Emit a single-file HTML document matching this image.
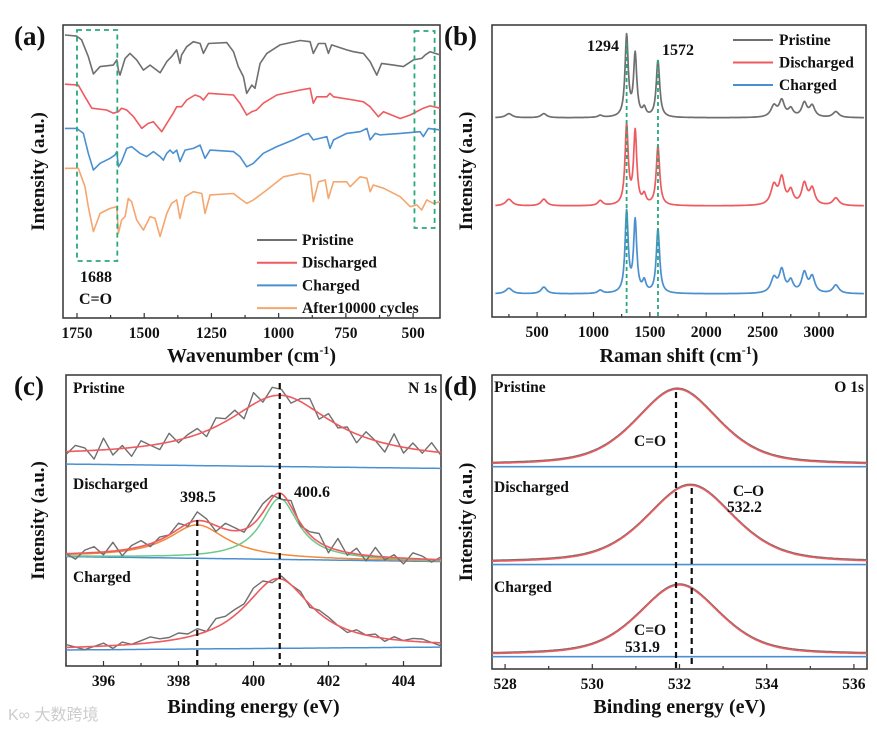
<!DOCTYPE html>
<html><head><meta charset="utf-8"><style>
html,body{margin:0;padding:0;background:#fff}
svg{display:block;font-family:"Liberation Serif",serif;font-weight:bold}
</style></head><body>
<svg id="fig" width="877" height="729" viewBox="0 0 877 729"></svg>
<script>
// ---------- Panel (a) FTIR data ----------
const ftirPristineWn=[1795,1751,1733,1708,1689,1664,1615,1602,1596,1590,1571,1553,1528,1503,1478,1441,1416,1398,1379,1367,1361,1342,1317,1292,1280,1261,1193,1168,1150,1131,1119,1100,1088,1069,1044,995,920,883,871,852,827,815,803,747,722,685,660,635,617,573,536,499,468,455,437,400];
const ftirPristineI=[96.6,96.2,94.9,89.2,83.3,85.8,86.3,88.1,84.6,82.9,88.6,90.3,88.1,84.6,86.3,83.7,87.5,89.2,91.5,86.9,89.8,92.6,94.3,93.7,90.3,93.7,94.0,90.9,85.8,82.4,76.7,79.5,78.4,86.9,90.3,93.2,94.7,94.3,90.3,93.7,93.7,90.3,93.2,91.5,90.9,90.3,87.5,82.9,86.9,86.3,85.8,88.1,88.6,89.8,90.9,89.8];
const ftirDischargedWn=[1795,1745,1720,1695,1640,1615,1596,1584,1565,1540,1509,1485,1466,1435,1416,1392,1379,1361,1342,1311,1292,1280,1261,1168,1144,1119,1100,1082,1057,1007,920,883,871,858,821,809,796,722,685,660,629,610,548,511,462,437,400];
const ftirDischargedI=[79.8,79.5,75.5,71.6,71.0,69.9,70.4,71.6,71.0,68.7,64.7,66.4,67.0,63.6,66.4,69.9,72.1,72.1,74.4,76.1,75.5,74.4,76.7,76.1,73.3,69.3,70.4,71.0,73.3,76.1,77.8,78.4,73.3,75.5,75.5,76.7,75.5,74.4,73.8,72.1,68.7,70.4,68.1,69.3,71.6,72.4,71.6];
const ftirChargedWn=[1795,1751,1726,1708,1689,1664,1627,1609,1602,1596,1584,1565,1547,1516,1491,1466,1441,1429,1416,1404,1392,1379,1367,1348,1317,1292,1274,1255,1168,1144,1119,1094,1057,1007,945,908,889,871,821,809,796,747,697,672,660,641,623,548,474,462,443,400];
const ftirChargedI=[64.7,64.7,63.0,56.2,50.5,52.8,54.5,55.6,56.8,51.6,53.4,57.9,58.5,56.2,55.1,56.8,55.1,53.9,56.2,57.3,56.2,57.3,53.4,57.3,57.9,59.0,54.5,57.3,56.8,55.1,51.6,52.8,56.2,58.5,60.8,62.5,63.0,60.8,61.9,57.9,60.8,63.0,63.6,64.7,60.8,63.0,62.5,63.0,63.6,61.9,64.7,64.2];
const ftirCycledWn=[1795,1745,1720,1708,1689,1664,1627,1602,1596,1584,1571,1559,1547,1528,1503,1478,1460,1441,1416,1398,1379,1367,1348,1317,1286,1274,1255,1168,1144,1119,1094,1044,982,920,883,871,852,827,815,796,747,734,697,672,660,648,610,548,511,486,468,449,424,400];
const ftirCycledI=[51.1,51.1,44.8,38.0,29.5,35.7,37.4,38.0,28.9,33.4,34.6,40.8,39.7,33.4,30.0,34.6,34.0,27.8,35.7,39.1,40.3,34.0,41.4,43.1,42.5,35.7,42.0,42.5,40.8,39.1,40.3,43.7,48.2,49.4,48.8,39.7,46.5,47.1,40.8,46.5,46.5,44.8,48.2,47.7,43.1,45.4,44.3,41.4,38.0,38.6,36.9,40.3,39.1,39.7];
const ftirTicks=[1750,1500,1250,1000,750,500];
// ---------- Panel (b) Raman data ----------
const ramanPeaks=[250,560,1060,1294,1370,1450,1572,2600,2670,2750,2870,2940,3150];
const ramanWidths=[35,30,25,17,17,18,18,32,28,26,28,28,32];
const ramanPristine=[1.4,1.4,0.7,27.7,21.2,2.7,19.5,3.8,5.5,2.7,4.8,3.8,2.0];
const ramanDischarged=[2.3,2.3,1.7,27.2,24.9,3.2,20.3,6.6,8.9,4.6,7.2,5.5,2.6];
const ramanCharged=[1.9,2.3,1.1,27.6,24.4,3.7,21.9,5.0,7.6,3.9,6.8,5.4,2.9];
const ramanBaselines=[68.2,38.0,7.9];
const ramanTicks=[500,1000,1500,2000,2500,3000];
// ---------- Panel (c) N 1s ----------
const n1sBaseLeft=[69.4,37.6,5.5];
const n1sBaseRight=[67.9,35.9,6.5];
const n1sCenters=[400.7,398.5,400.7,400.65];
const n1sHeights=[22,11.5,21,24];
const n1sWidths=[1.7,0.95,0.6,1.1];
const n1sNoisePristine=[-1,2,1,-3,4,-2,1,-3,2,0,-2,3,-1,1,2,-2,3,1,2,-3,4,-1,3,2,-2,1,3,-2,2,-1,1,-3,2,0,-3,4,-2,2,-1,3,-1];
const n1sNoiseDischarged=[0,-2,1,2,-1,3,-2,1,2,-1,1,0,2,-1,3,1,-2,2,1,-1,2,3,1,-2,2,-1,1,3,-2,4,-1,2,-2,3,-1,1,-2,2,1,-1,1];
const n1sNoiseCharged=[1,0,-1,0,1,-1,1,0,1,2,1,1,2,1,2,0,3,2,2,1,3,2,-1,1,0,1,-1,1,1,0,-1,1,0,1,-1,1,0,1,1,0,-1];
const n1sTicks=[396,398,400,402,404];
// ---------- Panel (d) O 1s ----------
const o1sBaselines=[68.8,35.5,4.2];
const o1sCenters=[531.95,532.25,532.0];
const o1sHeights=[26,26.6,24];
const o1sWidths=[1.12,1.18,1.1];
const o1sTicks=[528,530,532,534,536];

const NS="http://www.w3.org/2000/svg";
const svg=document.getElementById('fig');
function mk(tag,attrs,parent){const e=document.createElementNS(NS,tag);for(const k in attrs)e.setAttribute(k,attrs[k]);(parent||svg).appendChild(e);return e;}
function txt(s,x,y,size,anchor,parent){const t=mk('text',{x:x,y:y,'font-size':size,'text-anchor':anchor||'start',fill:'#111'},parent);t.textContent=s;return t;}
function lin(x,c,w){return 1/(1+((x-c)/w)**2);}
function voigt(x,c,w){return 0.45*lin(x,c,w)+0.55*Math.exp(-Math.LN2*((x-c)/w)**2);}
function panel(name,x0,x1,y0,y1,xmin,xmax){
  const g=mk('g',{});
  
  
  const sx=v=>x0+(v-xmin)/(xmax-xmin)*(x1-x0);
  const sy=v=>y1-v/100*(y1-y0);
  return {g,sx,sy,x0,x1,y0,y1};
}
function frame(P,ticks,minorStep,xmin,xmax){
  const f=mk('rect',{x:P.x0,y:P.y0,width:P.x1-P.x0,height:P.y1-P.y0,fill:'none',stroke:'#333','stroke-width':1.5},P.g);
  
  
  const lo=Math.min(xmin,xmax),hi=Math.max(xmin,xmax);
  for(let v=Math.ceil(lo/minorStep)*minorStep;v<=hi;v+=minorStep){
    const major=ticks.some(t=>Math.abs(t-v)<1e-6);
    mk('line',{x1:P.sx(v),x2:P.sx(v),y1:P.y1,y2:P.y1-(major?5:3),stroke:'#333','stroke-width':1.2},P.g);
  }
  ticks.forEach(t=>{const l=txt(String(t),P.sx(t),P.y1+20,15.5,'middle',P.g);
    
    });
}
function poly(P,xs,ys,color,w,name){
  const pts=xs.map((x,i)=>P.sx(x).toFixed(1)+','+P.sy(ys[i]).toFixed(1)).join(' ');
  const p=mk('polyline',{points:pts,fill:'none',stroke:color,'stroke-width':w||1.5,'stroke-linejoin':'round'},P.g);
  
  
  return p;
}
function dashV(P,xv,ya,yb,color,w,dash){mk('line',{x1:P.sx(xv),x2:P.sx(xv),y1:ya,y2:yb,stroke:color,'stroke-width':w,'stroke-dasharray':dash},P.g);}
function ylabel(P,x){const yc=(P.y0+P.y1)/2;const t=txt('Intensity (a.u.)',x,yc,19,'middle',P.g);t.setAttribute('transform','rotate(-90 '+x+' '+yc+')');
  
  }
function xtitle(P,parts,y){const t=mk('text',{x:(P.x0+P.x1)/2,y:y,'font-size':20,'text-anchor':'middle',fill:'#111'},P.g);
  
  
  t.innerHTML=parts;}
function letter(s,x,y){const t=txt(s,x,y,27,'start');
  }

const GRAY='#6f6f6f',RED='#ef5a5f',BLUE='#4a90d0',ORANGE='#f5a66e',GREEN='#2aa87a';

// ===== Panel a =====
{
const P=panel('panel-a-ftir',63,440,25,318,1802,400);
frame(P,ftirTicks,125,1802,400);
poly(P,ftirPristineWn,ftirPristineI,GRAY,1.6,'series-pristine');
poly(P,ftirDischargedWn,ftirDischargedI,RED,1.6,'series-discharged');
poly(P,ftirChargedWn,ftirChargedI,BLUE,1.6,'series-charged');
poly(P,ftirCycledWn,ftirCycledI,ORANGE,1.6,'series-after-cycles');
mk('rect',{x:P.sx(1750),y:30,width:P.sx(1600)-P.sx(1750),height:231,fill:'none',stroke:GREEN,'stroke-width':1.8,'stroke-dasharray':'5,4'},P.g);
mk('rect',{x:P.sx(495),y:31,width:P.sx(420)-P.sx(495),height:197,fill:'none',stroke:GREEN,'stroke-width':1.8,'stroke-dasharray':'5,4'},P.g);
txt('1688',80,282,16,'start',P.g);txt('C=O',79,304,16,'start',P.g);
const names=['Pristine','Discharged','Charged','After10000 cycles'],cols=[GRAY,RED,BLUE,ORANGE];
names.forEach((n,i)=>{const y=240+i*22.7;
 const l=mk('line',{x1:257,x2:297,y1:y,y2:y,stroke:cols[i],'stroke-width':2},P.g);
 
 
 const t=txt(n,302,y+5,15.5,'start',P.g);
 
 });
ylabel(P,44);
xtitle(P,'Wavenumber (cm<tspan dy="-8" font-size="12">-1</tspan><tspan dy="8">)</tspan>',362);
letter('(a)',14,45);
}
// ===== Panel b =====
{
const P=panel('panel-b-raman',492,866,25,317,100,3417);
frame(P,ramanTicks,250,100,3417);
const sets=[ramanPristine,ramanDischarged,ramanCharged],cols=[GRAY,RED,BLUE],nm=['series-pristine','series-discharged','series-charged'];
sets.forEach((h,si)=>{const xs=[],ys=[];
 for(let x=130;x<=3400;x+=4){let v=ramanBaselines[si];ramanPeaks.forEach((c,k)=>v+=h[k]*lin(x,c,ramanWidths[k]));xs.push(x);ys.push(v);}
 poly(P,xs,ys,cols[si],1.7,nm[si]);});
dashV(P,1294,43,316,GREEN,1.8,'4,3');dashV(P,1572,60,316,GREEN,1.8,'4,3');
txt('1294',587,51,16,'start',P.g);txt('1572',662,55,16,'start',P.g);
['Pristine','Discharged','Charged'].forEach((n,i)=>{const y=40+i*22.5;
 const l=mk('line',{x1:733,x2:773,y1:y,y2:y,stroke:cols[i],'stroke-width':2},P.g);
 
 
 const t=txt(n,779,y+5,15.5,'start',P.g);
 
 });
ylabel(P,472);
xtitle(P,'Raman shift (cm<tspan dy="-8" font-size="12">-1</tspan><tspan dy="8">)</tspan>',362);
letter('(b)',444,45);
}
// ===== Panel c =====
{
const P=panel('panel-c-n1s',66,441,375,666,395,405);
frame(P,n1sTicks,1,395,405);
const base=(i,x)=>n1sBaseLeft[i]+(n1sBaseRight[i]-n1sBaseLeft[i])*(x-395)/10;
const noises=[n1sNoisePristine,n1sNoiseDischarged,n1sNoiseCharged];
const fit=(i,x)=>{if(i===0)return base(0,x)+2.5+n1sHeights[0]*lin(x,n1sCenters[0],n1sWidths[0]);
 if(i===1)return base(1,x)+n1sHeights[1]*lin(x,n1sCenters[1],n1sWidths[1])+n1sHeights[2]*lin(x,n1sCenters[2],n1sWidths[2]);
 return base(2,x)+n1sHeights[3]*lin(x,n1sCenters[3],n1sWidths[3]);};
for(let i=0;i<3;i++){
 const xs=[],b=[],f=[],d=[];
 for(let x=395;x<=405.001;x+=0.05){xs.push(x);b.push(base(i,x));f.push(fit(i,x));}
 const dx=[];for(let k=0;k<noises[i].length;k++){const x=395+k*0.25;dx.push(x);d.push(fit(i,x)+noises[i][k]);}
 poly(P,xs,b,BLUE,1.5,'background-line');
 if(i===1){
  poly(P,xs,xs.map(x=>base(1,x)+n1sHeights[1]*lin(x,n1sCenters[1],n1sWidths[1])),'#f08a3c',1.5,'component-398');
  poly(P,xs,xs.map(x=>base(1,x)+n1sHeights[2]*lin(x,n1sCenters[2],n1sWidths[2])),'#6cc98a',1.5,'component-400');
 }
 poly(P,dx,d,GRAY,1.4,'raw-data');
 poly(P,xs,f,RED,1.6,'fit-envelope');
}
dashV(P,398.5,520,665,'#111',2.2,'6,4');dashV(P,400.7,383,665,'#111',2.2,'6,4');
txt('Pristine',73,393,15.5,'start',P.g);txt('N 1s',437,393,15.5,'end',P.g);
txt('Discharged',73,489,15.5,'start',P.g);txt('Charged',73,582,15.5,'start',P.g);
txt('398.5',180,502,16,'start',P.g);txt('400.6',294,497,16,'start',P.g);
ylabel(P,44);
xtitle(P,'Binding energy (eV)',713);
letter('(c)',14,395);
}
// ===== Panel d =====
{
const P=panel('panel-d-o1s',492,867,375,669,527.7,536.3);
frame(P,o1sTicks,1,527.7,536.3);
for(let i=0;i<3;i++){
 const xs=[],b=[],f=[];
 for(let x=527.7;x<=536.3;x+=0.04){xs.push(x);b.push(o1sBaselines[i]);f.push(o1sBaselines[i]+0.4+o1sHeights[i]*voigt(x,o1sCenters[i],o1sWidths[i]));}
 poly(P,xs,b,BLUE,1.6,'background-line');
 poly(P,xs,f.map((v,k)=>v+0.3),GRAY,1.6,'raw-data');
 poly(P,xs,f,RED,1.6,'fit-envelope');
}
dashV(P,531.92,392,668,'#111',2.2,'6,4');dashV(P,532.28,488,668,'#111',2.2,'6,4');
txt('Pristine',494,392,15.5,'start',P.g);txt('O 1s',864,392,15.5,'end',P.g);
txt('Discharged',494,492,15.5,'start',P.g);txt('Charged',494,592,15.5,'start',P.g);
txt('C=O',634,446,15.5,'start',P.g);txt('C\u2013O',733,496,15.5,'start',P.g);txt('532.2',727,512,15.5,'start',P.g);
txt('C=O',634,635,15.5,'start',P.g);txt('531.9',625,652,15.5,'start',P.g);
ylabel(P,472);
xtitle(P,'Binding energy (eV)',713);
letter('(d)',444,395);
}
const w=mk('text',{x:8,y:720,'font-size':16,fill:'#ccc','font-family':'"Liberation Sans","Noto Sans CJK SC",sans-serif','font-weight':'normal'});


w.textContent='K∞ 大数跨境';
</script>
</body></html>
